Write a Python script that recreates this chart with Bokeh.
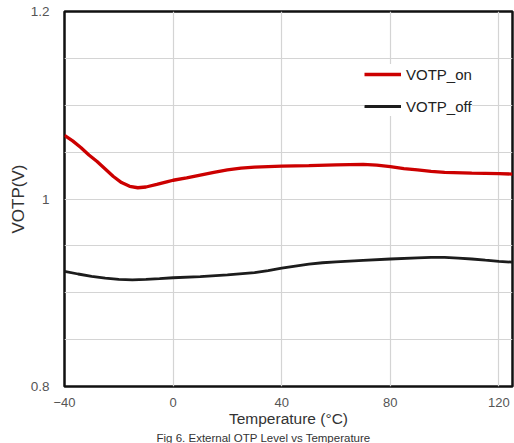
from bokeh.plotting import figure
from bokeh.models import FixedTicker, Legend, LegendItem, Title
from bokeh.embed import file_html
from bokeh.resources import INLINE

# Temperature (°C) sample points
temp_on = [-40, -37, -34, -31, -28, -25, -22, -19, -16, -13, -10, -6, -2, 0, 5, 10, 15, 20, 25, 30, 40, 50, 60, 70, 75, 80, 85, 90, 95, 100, 110, 120, 125]
votp_on = [1.068, 1.062, 1.055, 1.047, 1.040, 1.032, 1.024, 1.0175, 1.0135, 1.012, 1.0128, 1.0155, 1.0185, 1.020, 1.0225, 1.0255, 1.0285, 1.031, 1.033, 1.034, 1.035, 1.0355, 1.0365, 1.037, 1.0362, 1.0345, 1.0325, 1.031, 1.0295, 1.0285, 1.0275, 1.027, 1.0266]

temp_off = [-40, -35, -30, -25, -20, -15, -10, -5, 0, 10, 20, 30, 35, 40, 45, 50, 55, 60, 70, 80, 90, 95, 100, 105, 110, 115, 120, 125]
votp_off = [0.9228, 0.920, 0.9175, 0.9155, 0.9142, 0.9138, 0.9142, 0.915, 0.916, 0.9172, 0.919, 0.9215, 0.9237, 0.9262, 0.9285, 0.9305, 0.932, 0.933, 0.9345, 0.936, 0.9373, 0.9378, 0.9377, 0.937, 0.936, 0.9347, 0.9335, 0.9326]

x_ticks = [-40, 0, 40, 80, 120]
y_ticks = [0.8, 1.0, 1.2]
y_tick_labels = ["0.8", "1", "1.2"]
y_grid = [0.8, 0.85, 0.9, 0.95, 1.0, 1.05, 1.1, 1.15, 1.2]

x_label = "Temperature (°C)"
y_label = "VOTP(V)"
caption = "Fig 6. External OTP Level vs Temperature"
series_names = ["VOTP_on", "VOTP_off"]

FONT = "Liberation Sans"

p = figure(width=514, height=443, x_range=(-40, 125), y_range=(0.8, 1.2),
           output_backend="svg", toolbar_location=None,
           min_border_left=64, min_border_right=2, min_border_top=11, min_border_bottom=54)
p.background_fill_color = "white"
p.border_fill_color = "white"
p.outline_line_color = "#111111"
p.outline_line_width = 2.5

# grid
p.xgrid.ticker = FixedTicker(ticks=x_ticks)
p.ygrid.ticker = FixedTicker(ticks=y_grid)
for g in (p.xgrid, p.ygrid):
    g.grid_line_color = "#d4d4d4"
    g.grid_line_width = 1.2

# axes
p.xaxis.ticker = FixedTicker(ticks=x_ticks)
p.yaxis.ticker = FixedTicker(ticks=y_ticks)
p.yaxis.major_label_overrides = {v: t for v, t in zip(y_ticks, y_tick_labels)}
for ax in (p.xaxis, p.yaxis):
    ax.axis_line_color = None
    ax.major_tick_line_color = None
    ax.minor_tick_line_color = None
    ax.major_label_text_font = FONT
    ax.major_label_text_font_size = "13.5px"
    ax.major_label_text_color = "#555555"
    ax.axis_label_text_font = FONT
    ax.axis_label_text_font_style = "normal"
    ax.axis_label_text_color = "#333333"
p.xaxis.axis_label = x_label
p.yaxis.axis_label = y_label
p.xaxis.major_label_text_font_size = "13px"
p.xaxis.major_label_standoff = 5
p.xaxis.axis_label_standoff = 0
p.xaxis.axis_label_text_font_size = "15.5px"
p.yaxis.major_label_standoff = 9
p.yaxis.axis_label_standoff = 0
p.yaxis.axis_label_text_font_size = "17px"

r_on = p.line(temp_on, votp_on, line_color="#cc0000", line_width=3.3)
r_off = p.line(temp_off, votp_off, line_color="#1c1c1c", line_width=2.8)

legend = Legend(items=[LegendItem(label=series_names[0], renderers=[r_on]),
                       LegendItem(label=series_names[1], renderers=[r_off])],
                location=(300, 270), orientation="vertical")
legend.padding = 6
legend.spacing = 12
legend.glyph_width = 37
legend.glyph_height = 20
legend.label_height = 20
legend.label_standoff = 5
legend.label_text_font = FONT
legend.label_text_font_size = "15px"
legend.label_text_color = "#222222"
legend.border_line_color = None
legend.background_fill_color = "white"
legend.background_fill_alpha = 1.0
p.add_layout(legend, "center")

cap = Title(text=caption, align="left", offset=92, standoff=0,
            text_font=FONT, text_font_size="11.5px", text_font_style="normal",
            text_color="#333333")
p.add_layout(cap, "below")

open("out.html", "w").write(file_html(p, INLINE))
